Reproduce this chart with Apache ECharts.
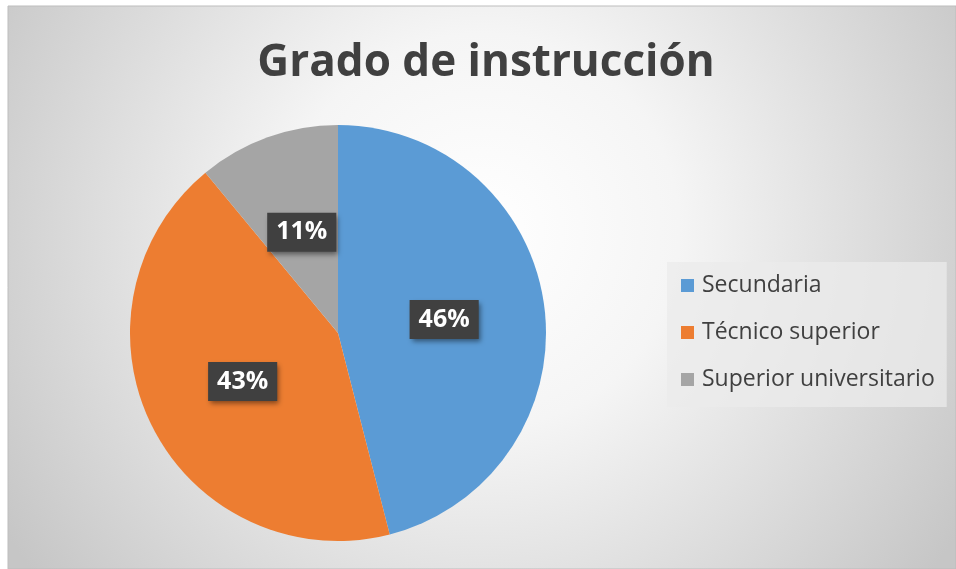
<!DOCTYPE html>
<html>
<head>
<meta charset="utf-8">
<title>Grado de instrucción</title>
<script src="https://cdn.jsdelivr.net/npm/echarts@6/dist/echarts.min.js"></script>
<style>
  html, body { margin: 0; padding: 0; background: #fff; }
  #chart { width: 956px; height: 569px; }
</style>
</head>
<body>
<div id="chart"></div>
<script>
// datos del gráfico
const categories = ['Secundaria', 'Técnico superior', 'Superior universitario']
const values = [46, 43, 11]
const colors = ['#5B9BD5', '#ED7D31', '#A5A5A5']

const font = '"Open Sans", "Noto Sans", sans-serif'

const chart = echarts.init(document.getElementById('chart'))

const option = {
  animation: false,
  backgroundColor: '#ffffff',
  graphic: [
    {
      // fondo con degradado radial
      type: 'rect',
      z: -10,
      shape: { x: 8, y: 6, width: 948, height: 563 },
      style: {
        fill: {
          type: 'radial',
          x: 0.5, y: 0.4, r: 1,
          colorStops: [
            { offset: 0, color: '#ffffff' },
            { offset: 0.35, color: '#f5f5f5' },
            { offset: 1, color: '#c6c6c6' }
          ]
        },
        stroke: '#bdbdbd',
        lineWidth: 1
      }
    }
  ],
  title: {
    text: 'Grado de instrucción',
    left: 481,
    top: 36,
    textAlign: 'center',
    textStyle: {
      fontFamily: font,
      fontSize: 44,
      fontWeight: 'bold',
      color: '#404040'
    }
  },
  legend: {
    orient: 'vertical',
    left: 667,
    top: 262,
    padding: [12, 12, 16, 14],
    itemGap: 24,
    itemWidth: 13,
    itemHeight: 13,
    icon: 'rect',
    backgroundColor: 'rgba(235,235,235,0.75)',
    data: categories,
    textStyle: {
      fontFamily: font,
      fontSize: 23,
      lineHeight: 23,
      color: '#404040',
      padding: [0, 0, 0, 3]
    }
  },
  series: [
    {
      name: 'Grado de instrucción',
      type: 'pie',
      center: [338, 333],
      radius: [0, 208],
      startAngle: 90,
      clockwise: true,
      label: {
        show: true,
        position: 'inside',
        formatter: '{d}%',
        fontFamily: font,
        fontSize: 25,
        fontWeight: 'bold',
        color: '#ffffff',
        backgroundColor: '#404040',
        padding: [7, 9, 7, 9],
        shadowColor: 'rgba(0,0,0,0.45)',
        shadowBlur: 5,
        shadowOffsetX: 2,
        shadowOffsetY: 3
      },
      labelLine: { show: false },
      emphasis: { disabled: true },
      data: categories.map((name, i) => ({
        name: name,
        value: values[i],
        itemStyle: { color: colors[i] }
      }))
    }
  ]
}

chart.setOption(option)
</script>
</body>
</html>
